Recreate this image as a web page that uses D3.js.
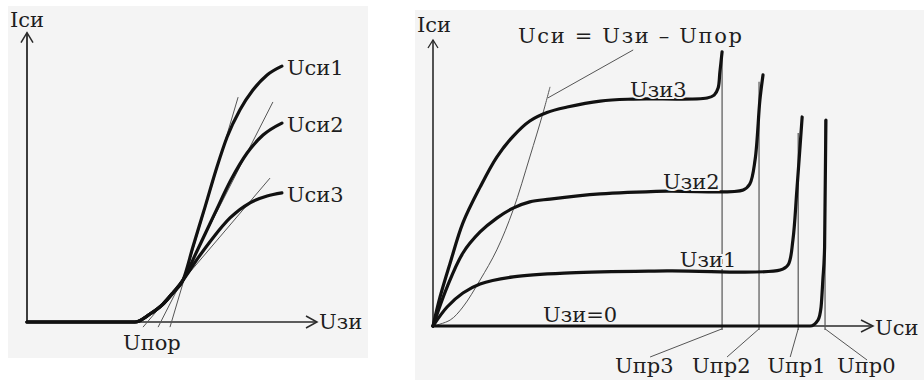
<!DOCTYPE html>
<html>
<head>
<meta charset="utf-8">
<script src="https://cdn.jsdelivr.net/npm/d3@7"></script>
<style>
  html, body { margin: 0; padding: 0; background: #ffffff; }
  svg { display: block; }
  text { font-family: "DejaVu Serif", "Liberation Serif", serif; fill: #1e1e1e; }
</style>
</head>
<body>
<svg id="chart" width="924" height="380"></svg>
<script>
// ---------- Transfer characteristic Iси(Uзи), three drain voltages ----------
const transferNames = ["Uси1", "Uси2", "Uси3"];
// part shared by all three curves (cut-off and the start of conduction)
const uziCommon = [0, 3.72, 4.24, 4.69, 5.03, 5.38];
const isiCommon = [0, 0, 0.28, 0.63, 1.02, 1.47];
const uziUsi1 = [5.72, 6.14, 6.55, 6.90, 7.34, 7.79, 8.28, 8.79];
const isiUsi1 = [2.63, 4.04, 5.44, 6.49, 7.44, 8.14, 8.67, 8.98];
const uziUsi2 = [5.83, 6.48, 7.03, 7.59, 8.14, 8.79];
const isiUsi2 = [2.42, 3.82, 4.98, 5.93, 6.56, 6.98];
const uziUsi3 = [5.90, 6.41, 7.00, 7.69, 8.28, 8.79];
const isiUsi3 = [2.25, 2.95, 3.65, 4.18, 4.42, 4.53];
// tangents that define the threshold voltage Uпор
const tangentUziLow  = [4.93, 4.52, 4.00];
const tangentIsiLow  = [-0.18, -0.18, -0.18];
const tangentUziHigh = [7.28, 8.48, 8.38];
const tangentIsiHigh = [7.89, 7.72, 5.05];

// ---------- Output characteristics Iси(Uси) for several Uзи ----------
const outputNames = ["Uзи3", "Uзи2", "Uзи1", "Uзи=0"];
const usiUzi3 = [0, 0.16, 0.39, 0.68, 1.07, 1.45, 1.82, 2.20, 2.59, 3.05, 3.80, 4.55, 6.23, 6.39, 6.48, 6.52, 6.57];
const isiUzi3 = [0, 1.02, 2.22, 3.63, 4.89, 5.95, 6.68, 7.22, 7.52, 7.71, 7.92, 7.99, 8.03, 8.13, 8.38, 8.94, 9.65];
const usiUzi2 = [0, 0.32, 0.68, 1.07, 1.45, 1.82, 2.20, 2.66, 3.80, 5.32, 7.05, 7.20, 7.32, 7.43, 7.50];
const isiUzi2 = [0, 1.37, 2.57, 3.31, 3.80, 4.15, 4.37, 4.47, 4.65, 4.75, 4.79, 5.00, 5.85, 7.96, 8.84];
const usiUzi1 = [0, 0.32, 0.68, 1.07, 1.82, 3.11, 5.32, 7.89, 8.07, 8.18, 8.27, 8.39];
const isiUzi1 = [0, 0.67, 1.16, 1.48, 1.73, 1.87, 1.94, 1.97, 2.15, 3.03, 4.79, 7.36];
const usiUzi0 = [0, 8.57, 8.75, 8.82, 8.86, 8.90, 8.93];
const isiUzi0 = [0, 0, 0.21, 0.67, 1.62, 2.78, 7.25];
// saturation boundary Uси = Uзи − Uпор
const usiBoundary = [0, 0.39, 0.68, 1.07, 1.45, 1.82, 2.20, 2.50, 2.66];
const isiBoundary = [0, 0.21, 0.67, 1.62, 2.68, 4.08, 5.95, 7.50, 8.42];
// breakdown voltages
const breakdownNames = ["Uпр3", "Uпр2", "Uпр1", "Uпр0"];
const breakdownUsi = [6.57, 7.41, 8.30, 8.91];
const breakdownTop = [9.65, 8.60, 6.80, 7.25];

const zip = (xs, ys) => xs.map((x, i) => [x, ys[i]]);

const svg = d3.select("#chart");
const bg = "#f4f4f4";
const axisColor = "#2a2a2a";
const curveColor = "#111";
const thinColor = "#555";
const fs = 21;

// ================= left panel =================
svg.append("rect").attr("x", 8).attr("y", 6).attr("width", 360).attr("height", 352).attr("fill", bg);

const xL = d3.scaleLinear().domain([0, 10]).range([27, 317]);
const yL = d3.scaleLinear().domain([0, 10]).range([322, 37]);
const left = svg.append("g");

// axes with open arrowheads
left.append("line").attr("x1", xL(0)).attr("y1", yL(0)).attr("x2", xL(10)).attr("y2", yL(0))
  .attr("stroke", axisColor).attr("stroke-width", 1.6);
left.append("line").attr("x1", xL(0)).attr("y1", yL(0)).attr("x2", xL(0)).attr("y2", yL(10.15))
  .attr("stroke", axisColor).attr("stroke-width", 1.8);
left.append("path").attr("d", `M${xL(10) - 11},${yL(0) - 6}L${xL(10)},${yL(0)}L${xL(10) - 11},${yL(0) + 6}`)
  .attr("fill", "none").attr("stroke", axisColor).attr("stroke-width", 1.5);
left.append("path").attr("d", `M${xL(0) - 6},${yL(10.15) + 10}L${xL(0)},${yL(10.15)}L${xL(0) + 6},${yL(10.15) + 10}`)
  .attr("fill", "none").attr("stroke", axisColor).attr("stroke-width", 1.5);

// tangents
const lineL = d3.line().x(d => xL(d[0])).y(d => yL(d[1]));
tangentUziLow.forEach((u, i) => {
  left.append("path")
    .attr("d", lineL([[u, tangentIsiLow[i]], [tangentUziHigh[i], tangentIsiHigh[i]]]))
    .attr("fill", "none").attr("stroke", thinColor).attr("stroke-width", 1);
});

// transfer curves
const curveL = d3.line().x(d => xL(d[0])).y(d => yL(d[1])).curve(d3.curveMonotoneX);
const transferData = [
  zip(uziCommon.concat(uziUsi1), isiCommon.concat(isiUsi1)),
  zip(uziCommon.concat(uziUsi2), isiCommon.concat(isiUsi2)),
  zip(uziCommon.concat(uziUsi3), isiCommon.concat(isiUsi3))
];
transferData.forEach(pts => {
  left.append("path").attr("d", curveL(pts))
    .attr("fill", "none").attr("stroke", curveColor).attr("stroke-width", 3.2)
    .attr("stroke-linecap", "round").attr("stroke-linejoin", "round");
});

// labels
transferData.forEach((pts, i) => {
  const last = pts[pts.length - 1];
  left.append("text").attr("x", xL(last[0]) + 5).attr("y", yL(last[1]) + 9)
    .attr("font-size", fs).text(transferNames[i]);
});
left.append("text").attr("x", 10).attr("y", 27).attr("font-size", fs).text("Iси");
left.append("text").attr("x", xL(10) + 2).attr("y", yL(0) + 7).attr("font-size", fs).text("Uзи");
left.append("text").attr("x", 123).attr("y", 350).attr("font-size", fs).text("Uпор");

// ================= right panel =================
svg.append("rect").attr("x", 415).attr("y", 10).attr("width", 509).attr("height", 370).attr("fill", bg);

const xR = d3.scaleLinear().domain([0, 10]).range([433, 873]);
const yR = d3.scaleLinear().domain([0, 10]).range([326, 42]);
const right = svg.append("g");
const lineR = d3.line().x(d => xR(d[0])).y(d => yR(d[1]));
const smoothR = d3.line().x(d => xR(d[0])).y(d => yR(d[1])).curve(d3.curveCatmullRom.alpha(0.5));
const monoR = d3.line().x(d => xR(d[0])).y(d => yR(d[1])).curve(d3.curveMonotoneX);

// axes
right.append("line").attr("x1", xR(0)).attr("y1", yR(0)).attr("x2", xR(10)).attr("y2", yR(0))
  .attr("stroke", axisColor).attr("stroke-width", 1.6);
right.append("line").attr("x1", xR(0)).attr("y1", yR(0)).attr("x2", xR(0)).attr("y2", yR(10.07))
  .attr("stroke", axisColor).attr("stroke-width", 1.6);
right.append("path").attr("d", `M${xR(10) - 12},${yR(0) - 6}L${xR(10)},${yR(0)}L${xR(10) - 12},${yR(0) + 6}`)
  .attr("fill", "none").attr("stroke", axisColor).attr("stroke-width", 1.5);
right.append("path").attr("d", `M${xR(0) - 5},${yR(10.07) + 8}L${xR(0)},${yR(10.07)}L${xR(0) + 5},${yR(10.07) + 8}`)
  .attr("fill", "none").attr("stroke", axisColor).attr("stroke-width", 1.3);

// breakdown voltage markers with leaders to their labels
const leaderDx = [-72, -32, -8, 42];
const leaderDy = [31, 31, 31, 34];
const labelDx = [-107, -67, -31, 12];
breakdownUsi.forEach((u, i) => {
  right.append("path").attr("d", lineR([[u, breakdownTop[i]], [u, -0.14]]))
    .attr("fill", "none").attr("stroke", thinColor).attr("stroke-width", 1.2);
  right.append("line")
    .attr("x1", xR(u)).attr("y1", yR(-0.1))
    .attr("x2", xR(u) + leaderDx[i]).attr("y2", yR(0) + leaderDy[i])
    .attr("stroke", thinColor).attr("stroke-width", 1);
  right.append("text").attr("x", xR(u) + labelDx[i]).attr("y", 373)
    .attr("font-size", fs).text(breakdownNames[i]);
});

// saturation boundary and its callout
right.append("path").attr("d", smoothR(zip(usiBoundary, isiBoundary)))
  .attr("fill", "none").attr("stroke", thinColor).attr("stroke-width", 1);
right.append("path").attr("d", lineR([[2.61, 8.03], [4.55, 9.72]]))
  .attr("fill", "none").attr("stroke", thinColor).attr("stroke-width", 1);
right.append("text").attr("x", 518).attr("y", 43).attr("font-size", fs)
  .attr("textLength", 224).attr("lengthAdjust", "spacing")
  .text("Uси = Uзи – Uпор");

// output curves (the zero-gate curve runs along the axis, so keep it monotone)
const outputData = [
  zip(usiUzi3, isiUzi3),
  zip(usiUzi2, isiUzi2),
  zip(usiUzi1, isiUzi1),
  zip(usiUzi0, isiUzi0)
];
outputData.forEach((pts, i) => {
  const gen = i === 3 ? monoR : smoothR;
  right.append("path").attr("d", gen(pts))
    .attr("fill", "none").attr("stroke", curveColor).attr("stroke-width", 3.2)
    .attr("stroke-linecap", "round").attr("stroke-linejoin", "round");
});

// curve labels sit just above each plateau
const outLabelUsi = [4.48, 5.23, 5.61, 2.50];
const outLabelIsi = [8.03, 4.79, 1.97, 0];
const outLabelLift = [1, 1, 3, 4];
outputNames.forEach((name, i) => {
  right.append("text").attr("x", xR(outLabelUsi[i])).attr("y", yR(outLabelIsi[i]) - outLabelLift[i])
    .attr("font-size", fs)
    .attr("stroke", bg).attr("stroke-width", 4).attr("paint-order", "stroke")
    .text(name);
});

right.append("text").attr("x", 417).attr("y", 32).attr("font-size", fs).text("Iси");
right.append("text").attr("x", xR(10) + 2).attr("y", yR(0) + 9).attr("font-size", fs).text("Uси");
</script>
</body>
</html>
